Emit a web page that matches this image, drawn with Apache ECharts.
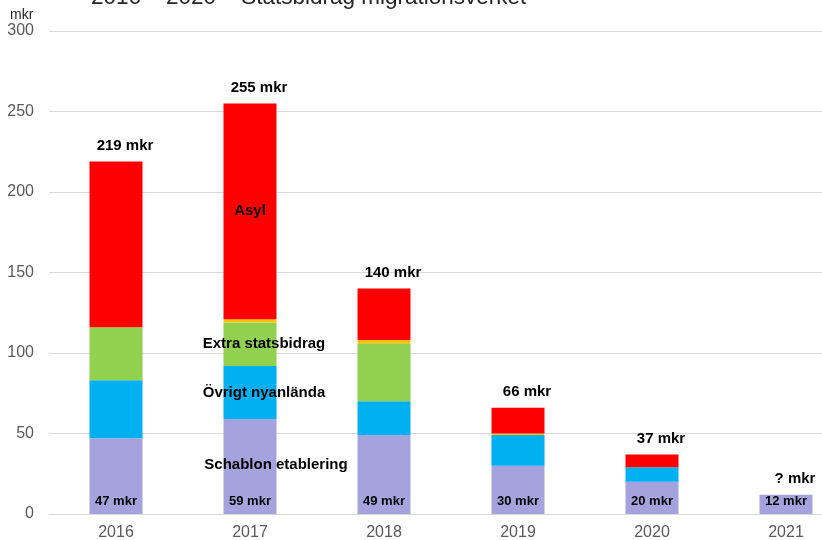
<!DOCTYPE html>
<html>
<head>
<meta charset="utf-8">
<script src="https://cdn.jsdelivr.net/npm/echarts@6/dist/echarts.min.js"></script>
<style>
  html, body { margin: 0; padding: 0; background: #fff; }
  #chart { width: 822px; height: 540px; }
</style>
</head>
<body>
<div id="chart"></div>
<script>
// data (mkr)
const years = ['2016', '2017', '2018', '2019', '2020', '2021'];
const schablon = [47, 59, 49, 30, 20, 12];
const ovrigt = [36, 33, 21, 19, 9, 0];
const extra = [33, 27, 36, 0, 0, 0];
const gul = [0, 2, 2, 1, 0, 0];
const asyl = [103, 134, 32, 16, 8, 0];
const totalLabels = ['219 mkr', '255 mkr', '140 mkr', '66 mkr', '37 mkr', '? mkr'];
const yTicks = [0, 50, 100, 150, 200, 250, 300];

const totals = years.map((_, i) => schablon[i] + ovrigt[i] + extra[i] + gul[i] + asyl[i]);

const labelFont = 'Liberation Sans, Arial, sans-serif';
const BW = 53;

function nameLabel(text, dx) {
  return {
    show: true,
    position: 'inside',
    offset: [dx, 0],
    formatter: text,
    color: '#000',
    fontFamily: labelFont,
    fontWeight: 'bold',
    fontSize: 15
  };
}

const schablonData = schablon.map((v, i) => {
  if (i === 1) {
    return {
      value: v,
      label: {
        formatter: '{n|Schablon etablering}\n{g|}\n{v|' + v + ' mkr}'
      }
    };
  }
  return v;
});

const ovrigtData = ovrigt.map((v, i) => i === 1 ? { value: v, label: nameLabel('Övrigt nyanlända', 14) } : v);
const extraData = extra.map((v, i) => i === 1 ? { value: v, label: nameLabel('Extra statsbidrag', 14) } : v);
const asylData = asyl.map((v, i) => i === 1 ? { value: v, label: nameLabel('Asyl', 0) } : v);
const gulData = gul.map((v) => v > 0 ? v : '-');

const chart = echarts.init(document.getElementById('chart'));

const option = {
  animation: false,
  title: [
    {
      text: '2016 – 2020 – Statsbidrag migrationsverket',
      left: 91,
      top: -14,
      padding: 0,
      textStyle: { fontFamily: labelFont, fontWeight: 'normal', fontSize: 22.5, color: '#262626' }
    },
    {
      text: 'mkr',
      left: 10,
      top: 8,
      padding: 0,
      textStyle: { fontFamily: labelFont, fontWeight: 'normal', fontSize: 14, color: '#262626' }
    }
  ],
  grid: {
    left: 49, top: 31, width: 804, height: 483,
    containLabel: false,
    outerBoundsMode: 'none'
  },
  xAxis: {
    type: 'category',
    data: years,
    axisTick: { show: false },
    axisLine: { lineStyle: { color: '#d9d9d9', width: 1 } },
    axisLabel: { color: '#595959', fontSize: 16, fontFamily: labelFont, margin: 11 }
  },
  yAxis: {
    type: 'value',
    min: yTicks[0],
    max: yTicks[yTicks.length - 1],
    interval: 50,
    axisLine: { show: false },
    axisTick: { show: false },
    axisLabel: { color: '#595959', fontSize: 16, fontFamily: labelFont, margin: 15 },
    splitLine: { lineStyle: { color: '#d9d9d9', width: 1 } }
  },
  series: [
    {
      name: 'Schablon etablering',
      type: 'bar',
      stack: 'a',
      barWidth: BW,
      barGap: '-100%',
      itemStyle: { color: '#A5A3DE' },
      label: {
        show: true,
        position: 'insideBottom',
        distance: 5,
        formatter: '{v|{c} mkr}',
        rich: {
          v: { fontFamily: labelFont, fontWeight: 'bold', fontSize: 13, color: '#000', lineHeight: 16 },
          n: { fontFamily: labelFont, fontWeight: 'bold', fontSize: 15, color: '#000', lineHeight: 18, padding: [0, 0, 0, 52] },
          g: { lineHeight: 19 }
        }
      },
      data: schablonData
    },
    {
      name: 'Övrigt nyanlända',
      type: 'bar',
      stack: 'a',
      barWidth: BW,
      barGap: '-100%',
      itemStyle: { color: '#00B0F0' },
      data: ovrigtData
    },
    {
      name: 'Extra statsbidrag',
      type: 'bar',
      stack: 'a',
      barWidth: BW,
      barGap: '-100%',
      itemStyle: { color: '#92D050' },
      data: extraData
    },
    {
      name: 'Gul',
      type: 'bar',
      stack: 'a',
      barWidth: BW,
      barGap: '-100%',
      itemStyle: { color: '#FFC000', borderColor: '#FFC000', borderWidth: 1 },
      data: gulData
    },
    {
      name: 'Asyl',
      type: 'bar',
      stack: 'a',
      barWidth: BW,
      barGap: '-100%',
      itemStyle: { color: '#FF0000' },
      data: asylData
    },
    {
      name: 'Totalt',
      type: 'bar',
      barWidth: BW,
      barGap: '-100%',
      z: 1,
      itemStyle: { color: 'rgba(0,0,0,0)' },
      label: {
        show: true,
        position: 'top',
        distance: 8,
        offset: [9, 0],
        formatter: (p) => totalLabels[p.dataIndex],
        color: '#000',
        fontFamily: labelFont,
        fontWeight: 'bold',
        fontSize: 15
      },
      data: totals
    }
  ]
};

chart.setOption(option);
</script>
</body>
</html>
